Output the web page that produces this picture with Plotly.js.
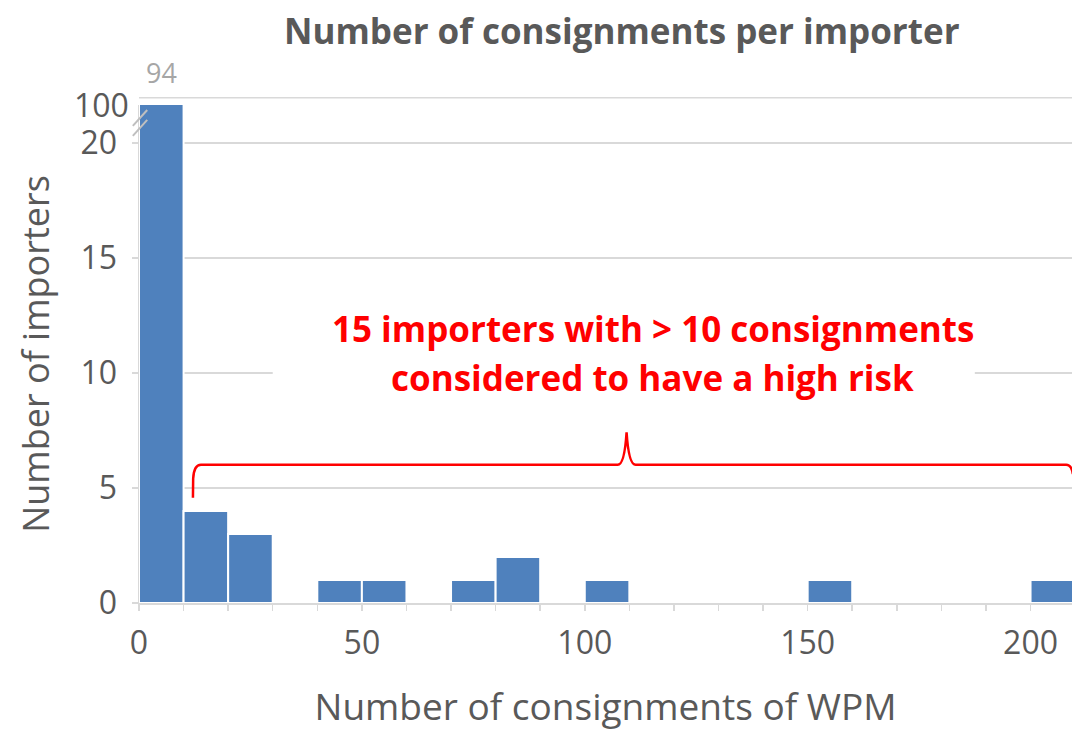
<!DOCTYPE html>
<html>
<head>
<meta charset="utf-8">
<script src="https://cdn.plot.ly/plotly-3.0.1.min.js"></script>
<style>
  html, body { margin: 0; padding: 0; background: #ffffff; }
  #chart { width: 1072px; height: 731px; }
</style>
</head>
<body>
<div id="chart"></div>
<script>
// Histogram of consignments per importer, bins of width 10
const binStarts = [0, 10, 20, 30, 40, 50, 60, 70, 80, 90, 100, 110, 120, 130, 140, 150, 160, 170, 180, 190, 200];
const importerCounts = [94, 4, 3, 0, 1, 1, 0, 1, 2, 0, 1, 0, 0, 0, 0, 1, 0, 0, 0, 0, 1];
const binWidth = 10;

const xTickVals = [0, 50, 100, 150, 200];
const xTickText = ['0', '50', '100', '150', '200'];
const yTickVals = [0, 5, 10, 15, 20];
const yTickText = ['0', '5', '10', '15', '20'];
const brokenAxisLabel = '100';

const titleText = 'Number of consignments per importer';
const xTitleText = 'Number of consignments of WPM';
const yTitleText = 'Number of importers';
const noteLines = ['15 importers with > 10 consignments', 'considered to have a high risk'];

const FONT = '"Open Sans", Lato, sans-serif';
const GREY_TEXT = '#595959';
const GRID = '#d9d9d9';
const BAR = '#4f81bd';
const RED = '#ff0000';

// visible part of the y scale; the tall first bin runs off the top (broken axis)
const yTop = 21.65;
const xRight = 209.3;

const barTrace = {
  type: 'bar',
  x: binStarts.map(b => b + binWidth / 2),
  y: importerCounts,
  width: binWidth,
  marker: { color: BAR, line: { color: '#ffffff', width: 2 } },
  hoverinfo: 'x+y'
};

const layout = {
  width: 1072,
  height: 731,
  margin: { l: 139, r: 0, t: 105, b: 128 },
  paper_bgcolor: '#ffffff',
  plot_bgcolor: '#ffffff',
  showlegend: false,
  bargap: 0,
  font: { family: FONT, color: GREY_TEXT },
  title: {
    text: '<b>' + titleText + '</b>',
    font: { family: FONT, size: 35, color: GREY_TEXT },
    xref: 'container', x: 0.58, xanchor: 'center',
    yref: 'container', y: 0.957, yanchor: 'middle'
  },
  xaxis: {
    range: [0, xRight],
    tickmode: 'array',
    tickvals: xTickVals,
    ticktext: xTickText,
    ticks: 'outside', ticklen: 6, tickwidth: 1.5, tickcolor: GRID,
    minor: { tickmode: 'linear', tick0: 0, dtick: 10, ticks: 'outside', ticklen: 6, tickwidth: 1.5, tickcolor: GRID, showgrid: false },
    ticklabelstandoff: 5,
    tickfont: { family: FONT, size: 32, color: GREY_TEXT },
    showline: true, linecolor: GRID, linewidth: 1.5,
    showgrid: false, zeroline: false,
    title: { text: xTitleText, font: { family: FONT, size: 37, color: GREY_TEXT }, standoff: 42 }
  },
  yaxis: {
    range: [0, yTop],
    tickmode: 'array',
    tickvals: yTickVals,
    ticktext: yTickText,
    ticks: 'outside', ticklen: 6, tickwidth: 1.5, tickcolor: GRID,
    ticklabelstandoff: 8,
    tickfont: { family: FONT, size: 32, color: GREY_TEXT },
    showline: true, linecolor: GRID, linewidth: 1.5,
    showgrid: true, gridcolor: GRID, gridwidth: 1.5,
    zeroline: false,
    title: { text: yTitleText, font: { family: FONT, size: 36, color: GREY_TEXT }, standoff: 20 }
  },
  shapes: [
    // top gridline standing for the 100 level above the break
    { type: 'line', xref: 'paper', yref: 'paper', x0: 0, x1: 1, y0: 1.0148, y1: 1.0148,
      line: { color: GRID, width: 1.5 } },
    // break marks on the y axis
    { type: 'line', xref: 'paper', yref: 'paper', x0: -0.0066, y0: 0.958, x1: 0.0088, y1: 0.990,
      line: { color: '#bfbfbf', width: 2 } },
    { type: 'line', xref: 'paper', yref: 'paper', x0: -0.0066, y0: 0.938, x1: 0.0088, y1: 0.970,
      line: { color: '#bfbfbf', width: 2 } },
    // white panel behind the note
    { type: 'rect', xref: 'x', yref: 'y', x0: 30, x1: 187.5, y0: 8.9, y1: 12.9,
      fillcolor: '#ffffff', line: { width: 0 } },
    // curly brace spanning the bins above 10 consignments
    { type: 'path', xref: 'x', yref: 'y',
      path: 'M 12.1,4.58 L 12.15,5.4 Q 12.3,6.01 13.9,6.01 L 107.4,6.01 Q 108.9,6.01 109.38,7.42 ' +
            'Q 109.86,6.01 111.4,6.01 L 208.0,6.01 Q 209.2,6.01 209.5,5.6',
      line: { color: RED, width: 2.5 } }
  ],
  annotations: [
    { xref: 'paper', yref: 'paper', x: 0, y: 1, xanchor: 'right', yanchor: 'middle',
      xshift: -8, yshift: 1, showarrow: false, text: brokenAxisLabel,
      font: { family: FONT, size: 32, color: GREY_TEXT } },
    { xref: 'x', yref: 'paper', x: binStarts[0] + binWidth / 2, y: 1.065, yanchor: 'middle',
      showarrow: false, text: String(importerCounts[0]),
      font: { family: FONT, size: 27, color: '#a6a6a6' } },
    { xref: 'x', yref: 'y', x: 115.2, y: 11.95, yanchor: 'middle', showarrow: false,
      text: '<b>' + noteLines[0] + '</b>', font: { family: FONT, size: 35, color: RED } },
    { xref: 'x', yref: 'y', x: 115.2, y: 9.8, yanchor: 'middle', showarrow: false,
      text: '<b>' + noteLines[1] + '</b>', font: { family: FONT, size: 35, color: RED } }
  ]
};

Plotly.newPlot('chart', [barTrace], layout, { displayModeBar: false, staticPlot: true });
</script>
</body>
</html>
